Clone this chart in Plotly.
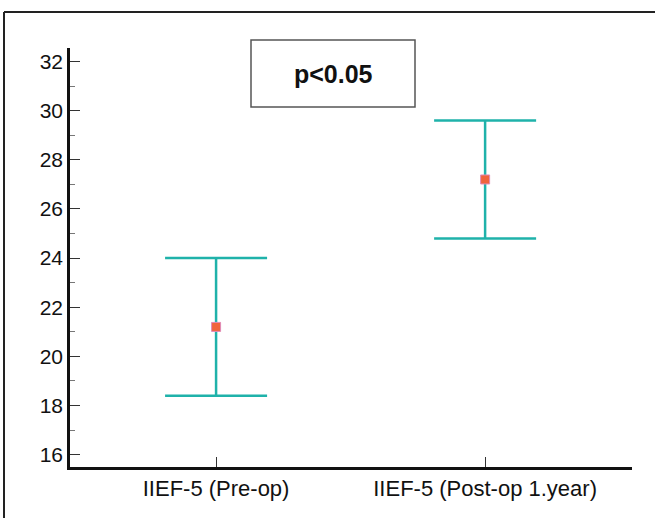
import plotly.graph_objects as go

categories = ["IIEF-5 (Pre-op)", "IIEF-5 (Post-op 1.year)"]
means = [21.2, 27.2]
sd = [2.8, 2.4]
yticks = [16, 18, 20, 22, 24, 26, 28, 30, 32]
xpos = [0, 1]

L, R, T, B = 70, 23, 48, 51
W, H = 655, 518
pw = W - L - R
ph = H - T - B

def px(x):
    return (x - L) / pw

def py(y):
    return (H - B - y) / ph

fig = go.Figure()
fig.add_trace(go.Scatter(
    x=xpos, y=means, mode="markers",
    marker=dict(symbol="square", size=9, color="#F0643C",
                line=dict(color="#E08AB8", width=1)),
    error_y=dict(type="data", array=sd, visible=True, color="#1FB2AA",
                 thickness=2.5, width=51),
    showlegend=False,
))

fig.update_layout(
    width=W, height=H,
    margin=dict(l=L, r=R, t=T, b=B),
    paper_bgcolor="white", plot_bgcolor="white",
    font=dict(family="Liberation Sans, Arial, sans-serif", color="#111"),
    xaxis=dict(range=[-0.543, 1.546], tickmode="array", tickvals=xpos,
               ticktext=categories, ticks="inside", ticklen=10, tickwidth=1,
               tickcolor="#333", showline=True, linecolor="#111", linewidth=2.5,
               showgrid=False, zeroline=False, tickfont=dict(size=22)),
    yaxis=dict(range=[15.5, 32.55], tickmode="array", tickvals=yticks,
               ticks="inside", ticklen=10, tickwidth=1, tickcolor="#333",
               minor=dict(dtick=1, ticks="inside", ticklen=5, tickcolor="#777", tickwidth=1),
               showline=True, linecolor="#111", linewidth=2.5,
               showgrid=False, zeroline=False, tickfont=dict(size=21)),
    shapes=[
        dict(type="line", xref="paper", yref="paper", x0=px(4), x1=px(655), y0=py(12), y1=py(12),
             line=dict(color="#222", width=2)),
        dict(type="line", xref="paper", yref="paper", x0=px(4), x1=px(4), y0=py(12), y1=py(518),
             line=dict(color="#222", width=2)),
        dict(type="rect", xref="paper", yref="paper", x0=px(251), x1=px(415), y0=py(107), y1=py(40),
             line=dict(color="#555", width=1.5), fillcolor="white"),
    ],
    annotations=[
        dict(text="<b>p<0.05</b>", xref="paper", yref="paper", x=px(333), y=py(73.5),
             showarrow=False, font=dict(size=25, color="#111"), xanchor="center", yanchor="middle"),
    ],
)

fig.write_html("out.html", config={"displayModeBar": False},
               post_script="document.body.style.margin='0';document.body.style.padding='0';")
